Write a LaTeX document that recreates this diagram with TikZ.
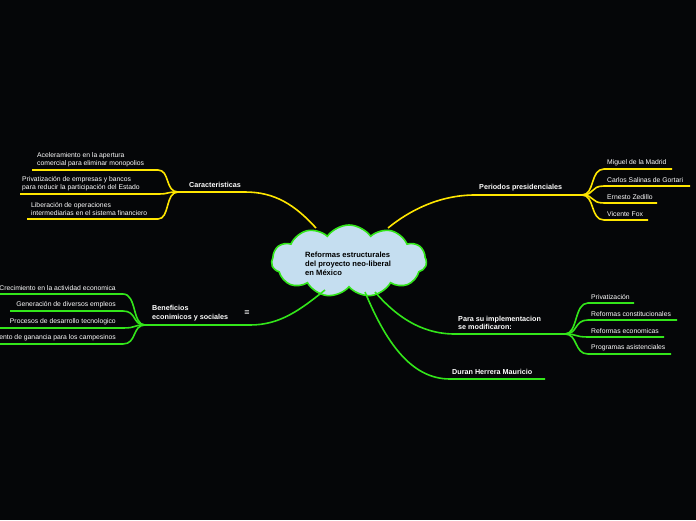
\documentclass[tikz,border=0pt]{standalone}
\usepackage{fontspec}
\setmainfont{Liberation Sans}
\usetikzlibrary{shapes.symbols}
\definecolor{yl}{HTML}{FFE600}
\definecolor{gr}{HTML}{33E61A}
\definecolor{bg}{HTML}{050608}
\begin{document}
\begin{tikzpicture}[x=1pt,y=-1pt,
 txt/.style={text=white,font=\fontsize{6.8}{8}\selectfont,inner sep=0pt,align=left},
 bt/.style={text=white,font=\bfseries\fontsize{7.2}{8.6}\selectfont,inner sep=0pt,align=left},
 yw/.style={draw=yl,line width=1.6pt},
 gw/.style={draw=gr,line width=1.6pt}]
\fill[bg] (0,0) rectangle (696,520);
\useasboundingbox (0,0) rectangle (696,520);
% central
\node[cloud,cloud puffs=11,cloud puff arc=110,aspect=2.3,draw=gr,line width=1.6pt,fill={rgb,255:red,197;green,222;blue,240},minimum width=155,minimum height=72,inner sep=0pt] (c) at (349,261) {};
\node[inner sep=0pt,align=left,anchor=west,font=\bfseries\fontsize{7.6}{9}\selectfont] (ct) at (305,264) {Reformas estructurales\\del proyecto neo-liberal\\en México};
% Caracteristicas
\coordinate (ca1) at (245,192); \coordinate (ca2) at (178,192);
\draw[yw] (316,228) .. controls (295,205) and (275,192) .. (ca1) -- (ca2);
\node[bt,anchor=south] (ca) at (215,188) {Caracteristicas};
\foreach \y/\xa/\n in {170/32/a,194/20/b,219/27/c}{
 \coordinate (ce\n) at (\xa,\y);
 \draw[yw] (ca2) .. controls (165,192) and (170,\y) .. (158,\y) -- (ce\n);}
\node[txt,anchor=south west] (t1) at (37,167) {Aceleramiento en la apertura\\comercial para eliminar monopolios};
\node[txt,anchor=south west] (t2) at (22,191) {Privatización de empresas y bancos\\para reducir la participación del Estado};
\node[txt,anchor=south west] (t3) at (31,216) {Liberación de operaciones\\intermediarias en el sistema financiero};
% Periodos
\coordinate (p1) at (475,195); \coordinate (p2) at (582,195);
\draw[yw] (388,228) .. controls (410,210) and (440,195) .. (p1) -- (p2);
\node[bt,anchor=south west] (pt) at (479,191) {Periodos presidenciales};
\foreach \y/\xb/\n/\t in {169/672/a/Miguel de la Madrid,186/690/b/Carlos Salinas de Gortari,203/657/c/Ernesto Zedillo,220/648/d/Vicente Fox}{
 \coordinate (pe\n) at (\xb,\y);
 \draw[yw] (p2) .. controls (595,195) and (590,\y) .. (604,\y) -- (pe\n);
 \node[txt,anchor=south west] (pn\n) at (607,\y-3) {\t};}
% Para su
\coordinate (s1) at (455,334); \coordinate (s2) at (565,334);
\draw[gw] (375,292) .. controls (395,315) and (420,334) .. (s1) -- (s2);
\node[bt,anchor=south west] (st) at (458,330) {Para su implementacion\\se modificaron:};
\foreach \y/\xb/\n/\t in {303/634/a/Privatización,320/677/b/Reformas constitucionales,337/664/c/Reformas economicas,354/671/d/Programas asistenciales}{
 \coordinate (se\n) at (\xb,\y);
 \draw[gw] (s2) .. controls (578,334) and (574,\y) .. (588,\y) -- (se\n);
 \node[txt,anchor=south west] (sn\n) at (591,\y-3) {\t};}
% Duran
\coordinate (d1) at (450,379); \coordinate (d2) at (545,379);
\draw[gw] (365,292) .. controls (385,340) and (410,379) .. (d1) -- (d2);
\node[bt,anchor=south west] (dt) at (452,375) {Duran Herrera Mauricio};
% Beneficios
\coordinate (b1) at (250,325); \coordinate (b2) at (145,325);
\draw[gw] (325,290) .. controls (300,310) and (280,325) .. (b1) -- (b2);
\node[bt,anchor=south west] (bt) at (152,321) {Beneficios\\econimicos y sociales};
\node[text=white,font=\fontsize{9}{10}\selectfont,inner sep=0pt] (ic) at (247,313) {≡};
\foreach \y/\xa/\n/\t in {294/0/a/Crecimiento en la actividad economica,311/10/b/Generación de diversos empleos,328/0/c/Procesos de desarrollo tecnologico,344/0/d/Aumento de ganancia para los campesinos}{
 \coordinate (be\n) at (\xa,\y);
 \draw[gw] (b2) .. controls (132,325) and (137,\y) .. (123,\y) -- (be\n);
 \node[txt,anchor=south east] (bn\n) at (116,\y-3) {\t};}
\end{tikzpicture}
\end{document}
